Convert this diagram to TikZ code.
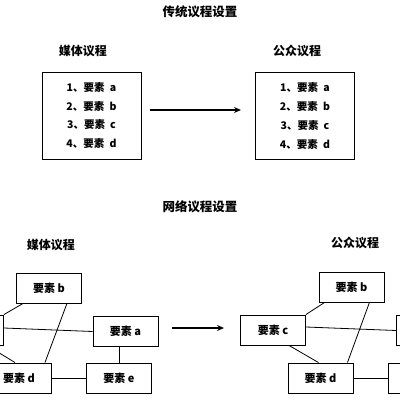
\documentclass[tikz,border=0pt]{standalone}
\usepackage{fontspec}
\setmainfont{Noto Sans CJK SC}
\usepackage{tikz}
\usetikzlibrary{arrows.meta, positioning}

\begin{document}
\begin{tikzpicture}[
  x=1pt, y=-1pt,
  heading/.style={font=\fontsize{12.5}{14}\selectfont\bfseries, inner sep=0pt},
  agenda/.style={font=\fontsize{12}{14}\selectfont\bfseries, inner sep=0pt},
  listbox/.style={rectangle, draw, line width=0.9pt, minimum width=99pt, minimum height=87pt, align=center, font=\fontsize{10.5}{18.7}\selectfont\bfseries, inner sep=0pt},
  netbox/.style={rectangle, draw, line width=0.9pt, minimum width=65pt, minimum height=30pt, font=\fontsize{11}{13}\selectfont\bfseries, inner sep=0pt},
  link/.style={line width=0.8pt},
  flow/.style={-{Stealth[length=7pt, width=6pt]}, line width=1.4pt},
]
\useasboundingbox (0,0) rectangle (400,400);
\clip (0,0) rectangle (400,400);

% ── TOP: traditional agenda setting ──
\node[heading] (toptitle) at (200,12) {传统议程设置};

\node[listbox] (media) at (91.5,115.5) {1、要素\enspace a\\2、要素\enspace b\\3、要素\enspace c\\4、要素\enspace d};
\node[agenda] (medialab) at (83,51) {媒体议程};

\node[listbox] (public) at (305,116) {1、要素\enspace a\\2、要素\enspace b\\3、要素\enspace c\\4、要素\enspace d};
\node[agenda] (publiclab) at (297,51) {公众议程};

\coordinate (tstart) at (150,110);
\coordinate (tend) at (241,110);
\draw[flow] (tstart) -- (tend);

% ── BOTTOM: network agenda setting ──
\node[heading] (bottitle) at (200,207) {网络议程设置};
\node[agenda] (netmedialab) at (51,245) {媒体议程};
\node[agenda] (netpubliclab) at (355,243) {公众议程};

% media network (box c runs off the left edge)
\node[netbox] (lb) at (49,288) {要素 b};
\node[netbox] (lc) at (-29,330) {};
\node[netbox] (la) at (125.5,331.5) {要素 a};
\node[netbox] (ld) at (19,378) {要素 d};
\node[netbox] (le) at (119,378) {要素 e};

\draw[link] ([xshift=7pt]lb.south west) -- (lc.north east);
\draw[link] ([yshift=2pt]lc.east) -- (la.west);
\draw[link] ([xshift=-15pt]lb.south east) -- ([xshift=-7pt]ld.north east);
\draw[link] ([xshift=16pt]lc.south) -- ([xshift=-4pt]ld.north);
\draw[link] ([xshift=-6.5pt]la.south) -- (le.north);
\draw[link] (ld.east) -- (le.west);

\coordinate (bstart) at (172,328);
\coordinate (bend) at (224,328);
\draw[flow] (bstart) -- (bend);

% public network (boxes a and e run off the right edge)
\node[netbox] (rb) at (351.5,287) {要素 b};
\node[netbox] (rc) at (273,330) {要素 c};
\node[netbox] (rd) at (320.5,378) {要素 d};
\node[netbox] (ra) at (429,330.5) {};
\node[netbox] (re) at (421,378) {};

\draw[link] (rc.north east) -- ([xshift=6pt]rb.south west);
\draw[link] ([yshift=3pt]rc.east) -- (ra.west);
\draw[link] ([xshift=-15pt]rb.south east) -- ([xshift=-6pt]rd.north east);
\draw[link] ([xshift=16pt]rc.south) -- ([xshift=-2pt]rd.north);
\draw[link] (rd.east) -- (re.west);

\end{tikzpicture}
\end{document}
